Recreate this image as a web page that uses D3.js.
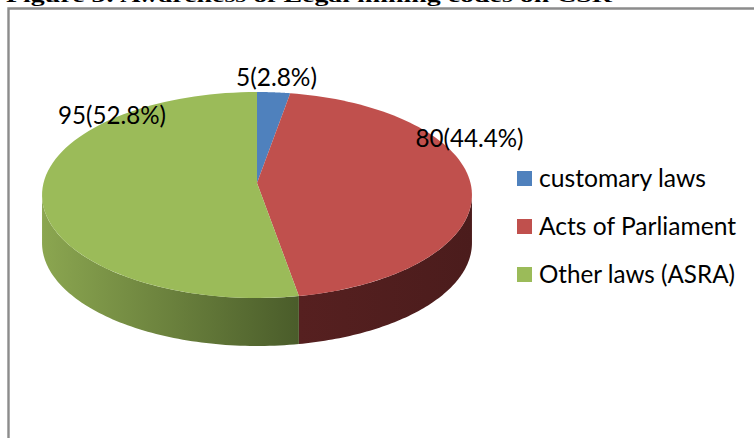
<!DOCTYPE html>
<html><head><meta charset="utf-8">
<script src="https://cdn.jsdelivr.net/npm/d3@7"></script>
<style>html,body{margin:0;padding:0;background:#fff;overflow:hidden}svg{display:block}</style>
</head><body><svg id="c" width="754" height="438"></svg>
<script>
const titleText = "Figure 3: Awareness of Legal mining codes on CSR";
const categories = ["customary laws","Acts of Parliament","Other laws (ASRA)"];
const values = [5,80,95];
const dataLabels = ["5(2.8%)","80(44.4%)","95(52.8%)"];
const colors = ["#4f81bd","#c0504d","#9bbb59"];

const ax=257, ay=183, A=213.5, B=101.6, k=-0.1165, depth=48;
const font="Lato,'Noto Sans',sans-serif";
const svg=d3.select("#c");
const defs=svg.append("defs");

const arcs=d3.pie().sort(null)(values);

const px=a=>{const x=Math.sin(a),y=-Math.cos(a);return ax+A*x/(1+k*y);};
const py=a=>{const y=-Math.cos(a);return ay+B*y/(1+k*y);};
const samples=(a0,a1)=>d3.range(81).map(i=>a0+(a1-a0)*i/80);
const line=d3.line();

svg.append("path").attr("d","M8.5,438V8.5H754").attr("fill","none").attr("stroke","#8c8c8c").attr("stroke-width",2.4);
svg.append("text").attr("x",6).attr("y",2).attr("font-family","'Liberation Serif',serif").attr("font-weight","bold").attr("font-size",19).attr("fill","#000")
  .attr("textLength",606).attr("lengthAdjust","spacingAndGlyphs").text(titleText);

const edgeA=Math.acos(k);
const boundary=arcs[1].endAngle;
const gGreen=defs.append("linearGradient").attr("id","gGreen").attr("gradientUnits","userSpaceOnUse").attr("x1",px(-edgeA)).attr("x2",px(boundary)).attr("y1",0).attr("y2",0);
gGreen.append("stop").attr("offset",0).attr("stop-color","#8ba650");
gGreen.append("stop").attr("offset",1).attr("stop-color","#4a5c2a");
const gRed=defs.append("linearGradient").attr("id","gRed").attr("gradientUnits","userSpaceOnUse").attr("x1",px(boundary)).attr("x2",px(edgeA)).attr("y1",0).attr("y2",0);
gRed.append("stop").attr("offset",0).attr("stop-color","#562020");
gRed.append("stop").attr("offset",1).attr("stop-color","#4b1c1c");

function wall(a0,a1){
  const as=samples(a0,a1);
  return line(as.map(a=>[px(a),py(a)]).concat(as.slice().reverse().map(a=>[px(a),py(a)+depth])))+"Z";
}
svg.append("path").attr("d",wall(edgeA,boundary)).attr("fill","url(#gRed)");
svg.append("path").attr("d",wall(boundary,2*Math.PI-edgeA)).attr("fill","url(#gGreen)");

svg.append("g").selectAll("path").data(arcs).join("path")
  .attr("d",d=>line([[ax,ay]].concat(samples(d.startAngle,d.endAngle).map(a=>[px(a),py(a)])))+"Z")
  .attr("fill",(d,i)=>colors[i]);

// legend
const ly=d3.scalePoint().domain(categories).range([178.5,274.5]);
const lg=svg.append("g").selectAll("g").data(categories).join("g").attr("transform",d=>`translate(517,${ly(d)})`);
lg.append("rect").attr("y",-7.5).attr("width",15).attr("height",15).attr("fill",(d,i)=>colors[i]);
lg.append("text").attr("x",22).attr("y",8).attr("font-family",font).attr("font-size",25).attr("fill","#000")
  .attr("textLength",(d,i)=>[167,197,196][i]).attr("lengthAdjust","spacingAndGlyphs").text(d=>d);

// data labels
const labelPos=[[276.5,86],[469.5,147],[112,124]];
svg.append("g").selectAll("text").data(dataLabels).join("text")
  .attr("x",(d,i)=>labelPos[i][0]).attr("y",(d,i)=>labelPos[i][1])
  .attr("text-anchor","middle").attr("font-family",font).attr("font-size",25).attr("fill","#000")
  .attr("textLength",(d,i)=>[81,108,108][i]).attr("lengthAdjust","spacingAndGlyphs").text(d=>d);
</script></body></html>
